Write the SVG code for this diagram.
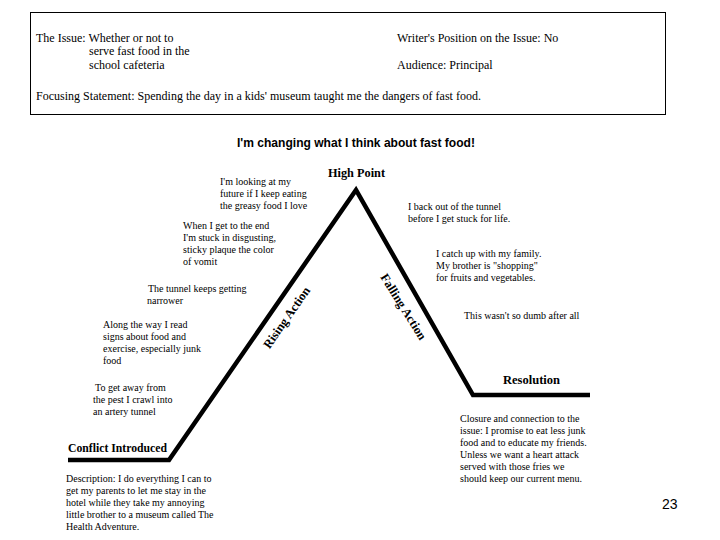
<svg xmlns="http://www.w3.org/2000/svg" width="720" height="540" viewBox="0 0 720 540">
<style>
.t{font-family:"Liberation Serif","Times New Roman",serif;font-size:12px;fill:#000}
.s{font-family:"Liberation Serif","Times New Roman",serif;font-size:10px;fill:#000}
.b{font-family:"Liberation Serif","Times New Roman",serif;font-size:12.5px;font-weight:bold;fill:#000}
.line{fill:none;stroke:#000;stroke-width:4.5;stroke-linejoin:miter}
</style>
<rect width="720" height="540" fill="#fff"/>
<g id="header">
<rect x="30.5" y="12.5" width="635" height="102" fill="none" stroke="#000" stroke-width="1"/>
<text class="t" x="36" y="42">The Issue:  Whether or not to</text>
<text class="t" x="89" y="55">serve fast food in the</text>
<text class="t" x="89" y="69">school cafeteria</text>
<text class="t" x="397" y="42">Writer's Position on the Issue: No</text>
<text class="t" x="397" y="69">Audience: Principal</text>
<text class="t" x="36" y="100" textLength="445">Focusing Statement: Spending the day in a kids' museum taught me the dangers of fast food.</text>
</g>
<g id="title">
<text x="356" y="147" text-anchor="middle" font-family="Liberation Sans, Arial, sans-serif" font-size="13" font-weight="bold" textLength="238" lengthAdjust="spacingAndGlyphs">I'm changing what I think about fast food!</text>
</g>
<g id="connectors">
<polyline class="line" points="68,460 169,460 356,190 473,395 590,395"/>
</g>
<g id="rising-label">
<text class="b" x="0" y="0" text-anchor="middle" transform="translate(290,320) rotate(-55)">Rising Action</text>
</g>
<g id="falling-label">
<text class="b" x="0" y="0" text-anchor="middle" transform="translate(400,309) rotate(58)">Falling Action</text>
</g>
<g id="high-point">
<text class="b" x="328" y="177" textLength="57" lengthAdjust="spacingAndGlyphs">High Point</text>
</g>
<g id="conflict">
<text class="b" x="68" y="452" textLength="99" lengthAdjust="spacingAndGlyphs">Conflict Introduced</text>
<text class="s" x="66" y="482">Description: I do everything I can to</text>
<text class="s" x="66" y="494">get my parents to let me stay in the</text>
<text class="s" x="66" y="506">hotel while they take my annoying</text>
<text class="s" x="66" y="518">little brother to a museum called The</text>
<text class="s" x="66" y="530">Health Adventure.</text>
</g>
<g id="rise-events">
<text class="s" x="95" y="391">To get away from</text>
<text class="s" x="93" y="403">the pest I crawl into</text>
<text class="s" x="93" y="415">an artery tunnel</text>
<text class="s" x="103" y="328">Along the way I read</text>
<text class="s" x="103" y="340">signs about food and</text>
<text class="s" x="103" y="352">exercise, especially junk</text>
<text class="s" x="103" y="364">food</text>
<text class="s" x="148" y="292">The tunnel keeps getting</text>
<text class="s" x="147" y="304">narrower</text>
<text class="s" x="183" y="229">When I get to the end</text>
<text class="s" x="183" y="241">I'm stuck in disgusting,</text>
<text class="s" x="183" y="253">sticky plaque the color</text>
<text class="s" x="183" y="265">of vomit</text>
<text class="s" x="220" y="185">I'm looking at my</text>
<text class="s" x="220" y="197">future if I keep eating</text>
<text class="s" x="220" y="209">the greasy food I love</text>
</g>
<g id="fall-events">
<text class="s" x="408" y="210">I back out of the tunnel</text>
<text class="s" x="408" y="222">before I get stuck for life.</text>
<text class="s" x="436" y="257">I catch up with my family.</text>
<text class="s" x="436" y="269">My brother is "shopping"</text>
<text class="s" x="436" y="281">for fruits and vegetables.</text>
<text class="s" x="464" y="319">This wasn't so dumb after all</text>
</g>
<g id="resolution">
<text class="b" x="503" y="384" textLength="57" lengthAdjust="spacingAndGlyphs">Resolution</text>
<text class="s" x="460" y="422">Closure and connection to the</text>
<text class="s" x="460" y="434">issue: I promise to eat less junk</text>
<text class="s" x="460" y="446">food and to educate my friends.</text>
<text class="s" x="460" y="458">Unless we want a heart attack</text>
<text class="s" x="460" y="470">served with those fries we</text>
<text class="s" x="460" y="482">should keep our current menu.</text>
</g>
<g id="page-number">
<text x="662" y="509" font-family="Liberation Sans, Arial, sans-serif" font-size="14">23</text>
</g>
</svg>
